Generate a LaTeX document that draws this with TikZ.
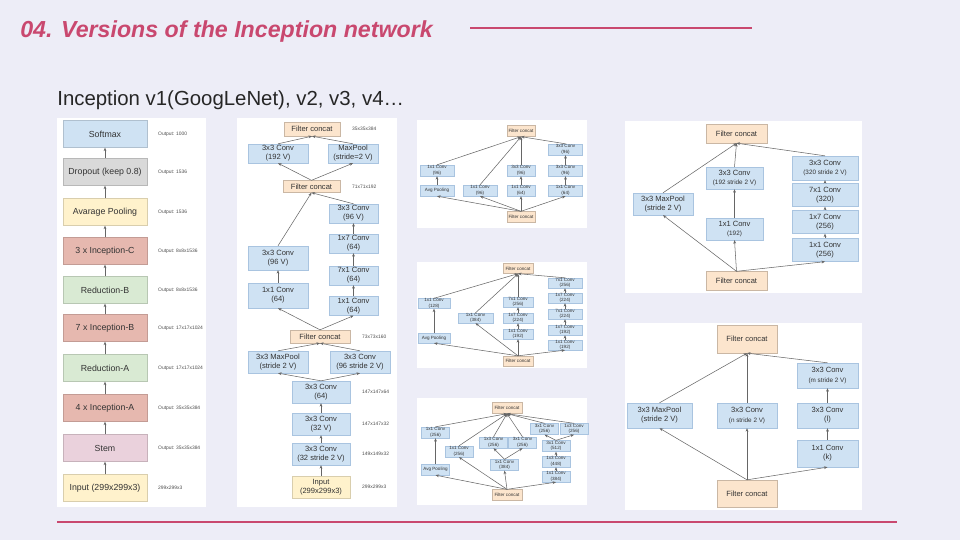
\documentclass[tikz,border=0pt]{standalone}
\usepackage{fontspec}
\setmainfont{Liberation Sans}
\usetikzlibrary{arrows.meta, positioning}
\definecolor{slide}{HTML}{EDEDF7}
\definecolor{titlered}{HTML}{C9486F}
\definecolor{convblue}{HTML}{CFE2F3}
\definecolor{convline}{HTML}{A9C4E0}
\definecolor{concat}{HTML}{FCE5CD}
\definecolor{inyellow}{HTML}{FFF2CC}
\definecolor{softblue}{HTML}{CFE2F3}
\definecolor{dropgray}{HTML}{D9D9D9}
\definecolor{incred}{HTML}{E6B8AF}
\definecolor{redgreen}{HTML}{D9EAD3}
\definecolor{stempurple}{HTML}{EAD1DC}
\newcommand{\fsz}[1]{\fontsize{#1pt}{\dimexpr #1pt*6/5\relax}\selectfont}
\tikzset{
  panel/.style={fill=white, draw=none},
  box/.style={draw=convline, line width=0.2pt, fill=convblue, inner sep=0pt, align=center, text=black!80},
  fc/.style={box, fill=concat, draw=concat!80!black},
  link/.style={draw=black!60, line width=0.3pt, -{Stealth[length=2pt, width=1.6pt]}},
  tiny/.style={font=\fsz{2.6}},
  small/.style={font=\fsz{4.3}},
  side/.style={anchor=west, font=\fsz{2.8}, text=black!70},
}
\begin{document}
\begin{tikzpicture}[x=0.02cm, y=-0.02cm]
\useasboundingbox (0,0) rectangle (960,540);
\fill[slide] (0,0) rectangle (960,540);

% title and rules
\node[anchor=base west, text=titlered, font=\bfseries\itshape\fsz{13.2}, inner sep=0] (T) at (20,38) {04. Versions of the Inception network};
\draw[titlered, line width=0.6pt] (470,28) -- (752,28);
\node[anchor=base west, font=\fsz{11.6}, text=black!85, inner sep=0] (S) at (57,106) {Inception v1(GoogLeNet), v2, v3, v4\dots};
\draw[titlered, line width=0.6pt] (57,522) -- (897,522);

% panels
\fill[panel] (57,118) rectangle (206,507);
\fill[panel] (237,118) rectangle (397,507);
\fill[panel] (417,120) rectangle (587,228);
\fill[panel] (417,262) rectangle (587,368);
\fill[panel] (417,398) rectangle (587,505);
\fill[panel] (625,121) rectangle (862,293);
\fill[panel] (625,323) rectangle (862,510);

% overall network
\foreach \n/\y/\c/\t/\o in {
  N0/134/softblue/Softmax/Output: 1000,
  N1/172/dropgray/Dropout (keep 0.8)/Output: 1536,
  N2/212/inyellow/Avarage Pooling/Output: 1536,
  N3/251/incred/3 x Inception-C/Output: 8x8x1536,
  N4/290/redgreen/Reduction-B/Output: 8x8x1536,
  N5/328/incred/7 x Inception-B/Output: 17x17x1024,
  N6/368/redgreen/Reduction-A/Output: 17x17x1024,
  N7/408/incred/4 x Inception-A/Output: 35x35x384,
  N8/448/stempurple/Stem/Output: 35x35x384,
  N9/488/inyellow/Input (299x299x3)/299x299x3}{
  \node[box, fill=\c, draw=\c!85!black, minimum width=84*0.02cm, minimum height=27*0.02cm, font=\fsz{5}] (\n) at (105,\y) {\t};
  \node[side] at (152,\y) {\o};
}
\foreach \a/\b in {N9/N8, N8/N7, N7/N6, N6/N5, N5/N4, N4/N3, N3/N2, N2/N1, N1/N0}
  \draw[link] (\a) -- (\b);

% stem
\begin{scope}[every node/.append style={small}]
\node[fc, minimum width=56*0.02cm, minimum height=14*0.02cm] (F1) at (312,129) {Filter concat};
\node[box, minimum width=60*0.02cm, minimum height=19*0.02cm] (C192) at (278,153.5) {3x3 Conv\\(192 V)};
\node[box, minimum width=50*0.02cm, minimum height=19*0.02cm] (MP2) at (353,153.5) {MaxPool\\(stride=2 V)};
\node[fc, minimum width=57*0.02cm, minimum height=12*0.02cm] (F2) at (311.5,186.5) {Filter concat};
\node[box, minimum width=49*0.02cm, minimum height=19*0.02cm] (R1) at (353.5,213.5) {3x3 Conv\\(96 V)};
\node[box, minimum width=49*0.02cm, minimum height=19*0.02cm] (R2) at (353.5,243.5) {1x7 Conv\\(64)};
\node[box, minimum width=49*0.02cm, minimum height=19*0.02cm] (R3) at (353.5,275.5) {7x1 Conv\\(64)};
\node[box, minimum width=49*0.02cm, minimum height=19*0.02cm] (R4) at (353.5,306) {1x1 Conv\\(64)};
\node[box, minimum width=60*0.02cm, minimum height=24*0.02cm] (L1) at (278,258) {3x3 Conv\\(96 V)};
\node[box, minimum width=60*0.02cm, minimum height=25*0.02cm] (L2) at (278,295.5) {1x1 Conv\\(64)};
\node[fc, minimum width=60*0.02cm, minimum height=13*0.02cm] (F3) at (320,336.5) {Filter concat};
\node[box, minimum width=60*0.02cm, minimum height=22*0.02cm] (MP3) at (278,362) {3x3 MaxPool\\(stride 2 V)};
\node[box, minimum width=60*0.02cm, minimum height=22*0.02cm] (C96) at (360,362) {3x3 Conv\\(96 stride 2 V)};
\node[box, minimum width=58*0.02cm, minimum height=22*0.02cm] (S3) at (321,392) {3x3 Conv\\(64)};
\node[box, minimum width=58*0.02cm, minimum height=22*0.02cm] (S2) at (321,424) {3x3 Conv\\(32 V)};
\node[box, minimum width=58*0.02cm, minimum height=22*0.02cm] (S1) at (321,454) {3x3 Conv\\(32 stride 2 V)};
\node[box, fill=inyellow, draw=inyellow!85!black, minimum width=58*0.02cm, minimum height=22*0.02cm] (IN) at (321,487) {Input\\(299x299x3)};
\end{scope}
\node[side] at (346,129) {35x35x384};
\node[side] at (346,186.5) {71x71x192};
\node[side] at (356,336.5) {73x73x160};
\node[side] at (356,392) {147x147x64};
\node[side] at (356,424) {147x147x32};
\node[side] at (356,454) {149x149x32};
\node[side] at (356,487) {299x299x3};
\draw[link] (IN) -- (S1);
\draw[link] (S1) -- (S2);
\draw[link] (S2) -- (S3);
\draw[link] (S3.north) -- (MP3.south);
\draw[link] (S3.north) -- (C96.south);
\draw[link] (MP3.north) -- (F3.south);
\draw[link] (C96.north) -- (F3.south);
\draw[link] (F3.north) -- (L2.south);
\draw[link] (F3.north) -- (R4.south);
\draw[link] (L2) -- (L1);
\draw[link] (R4) -- (R3);
\draw[link] (R3) -- (R2);
\draw[link] (R2) -- (R1);
\draw[link] (L1.north) -- (F2.south);
\draw[link] (R1.north) -- (F2.south);
\draw[link] (F2.north) -- (C192.south);
\draw[link] (F2.north) -- (MP2.south);
\draw[link] (C192.north) -- (F1.south);
\draw[link] (MP2.north) -- (F1.south);

% inception-A
\begin{scope}[every node/.append style={tiny, minimum width=34*0.02cm, minimum height=11*0.02cm}]
\node[fc, minimum width=28*0.02cm] (AT) at (521,131) {Filter concat};
\node[fc, minimum width=28*0.02cm] (AB) at (521,217) {Filter concat};
\node[box] (AA1) at (437,170.5) {1x1 Conv\\(96)};
\node[box] (AAP) at (437,190.5) {Avg Pooling};
\node[box] (AB1) at (480,190.5) {1x1 Conv\\(96)};
\node[box, minimum width=28*0.02cm] (AC2) at (521,170.5) {3x3 Conv\\(96)};
\node[box, minimum width=28*0.02cm] (AC1) at (521,190.5) {1x1 Conv\\(64)};
\node[box] (AD3) at (565.5,149.5) {3x3 Conv\\(96)};
\node[box] (AD2) at (565.5,170.5) {3x3 Conv\\(96)};
\node[box] (AD1) at (565.5,190.5) {1x1 Conv\\(64)};
\end{scope}
\foreach \a in {AAP, AB1, AC1, AD1} \draw[link] (AB.north) -- (\a.south);
\draw[link] (AAP) -- (AA1);
\draw[link] (AC1) -- (AC2);
\draw[link] (AD1) -- (AD2);
\draw[link] (AD2) -- (AD3);
\foreach \a in {AA1, AB1, AC2, AD3} \draw[link] (\a.north) -- (AT.south);

% inception-B
\begin{scope}[every node/.append style={tiny, minimum width=32*0.02cm, minimum height=10*0.02cm}]
\node[fc, minimum width=30*0.02cm] (BT) at (518,268.5) {Filter concat};
\node[fc, minimum width=30*0.02cm] (BB) at (518,361) {Filter concat};
\node[box] (BA1) at (434,303.5) {1x1 Conv\\(128)};
\node[box] (BAP) at (434,338) {Avg Pooling};
\node[box, minimum width=35*0.02cm] (BB1) at (475.5,318) {1x1 Conv\\(384)};
\node[box, minimum width=30*0.02cm] (BC3) at (518,302) {7x1 Conv\\(256)};
\node[box, minimum width=30*0.02cm] (BC2) at (518,318) {1x7 Conv\\(224)};
\node[box, minimum width=30*0.02cm] (BC1) at (518,334) {1x1 Conv\\(192)};
\node[box, minimum width=34*0.02cm] (BD5) at (565,283) {7x1 Conv\\(256)};
\node[box, minimum width=34*0.02cm] (BD4) at (565,298) {1x7 Conv\\(224)};
\node[box, minimum width=34*0.02cm] (BD3) at (565,314) {7x1 Conv\\(224)};
\node[box, minimum width=34*0.02cm] (BD2) at (565,330) {1x7 Conv\\(192)};
\node[box, minimum width=34*0.02cm] (BD1) at (565,345) {1x1 Conv\\(192)};
\end{scope}
\foreach \a in {BAP, BB1, BC1, BD1} \draw[link] (BB.north) -- (\a.south);
\draw[link] (BAP) -- (BA1);
\draw[link] (BC1) -- (BC2);
\draw[link] (BC2) -- (BC3);
\draw[link] (BD1) -- (BD2);
\draw[link] (BD2) -- (BD3);
\draw[link] (BD3) -- (BD4);
\draw[link] (BD4) -- (BD5);
\foreach \a in {BA1, BB1, BC3, BD5} \draw[link] (\a.north) -- (BT.south);

% inception-C
\begin{scope}[every node/.append style={tiny, minimum width=28*0.02cm, minimum height=11*0.02cm}]
\node[fc, minimum width=30*0.02cm] (CT) at (507,408) {Filter concat};
\node[fc, minimum width=30*0.02cm] (CB) at (507,495) {Filter concat};
\node[box] (CA1) at (435.5,432.5) {1x1 Conv\\(256)};
\node[box] (CAP) at (435.5,469.5) {Avg Pooling};
\node[box] (CB1) at (459,451.5) {1x1 Conv\\(256)};
\node[box] (CC1) at (504.5,465) {1x1 Conv\\(384)};
\node[box] (CC2) at (493.5,442.5) {1x3 Conv\\(256)};
\node[box] (CC3) at (522.5,442.5) {3x1 Conv\\(256)};
\node[box] (CD1) at (556,476.5) {1x1 Conv\\(384)};
\node[box] (CD2) at (556,461.5) {1x3 Conv\\(448)};
\node[box] (CD3) at (556,446) {3x1 Conv\\(512)};
\node[box] (CD4) at (544.5,429) {3x1 Conv\\(256)};
\node[box] (CD5) at (574,429) {1x3 Conv\\(256)};
\end{scope}
\foreach \a in {CAP, CB1, CC1, CD1} \draw[link] (CB.north) -- (\a.south);
\draw[link] (CAP) -- (CA1);
\draw[link] (CC1.north) -- (CC2.south);
\draw[link] (CC1.north) -- (CC3.south);
\draw[link] (CD1) -- (CD2);
\draw[link] (CD2) -- (CD3);
\draw[link] (CD3.north) -- (CD4.south);
\draw[link] (CD3.north) -- (CD5.south);
\foreach \a in {CA1, CB1, CC2, CC3, CD4, CD5} \draw[link] (\a.north) -- (CT.south);

% reduction-B
\begin{scope}[every node/.append style={small}]
\node[fc, minimum width=61*0.02cm, minimum height=19*0.02cm] (RT) at (736.5,133.5) {Filter concat};
\node[fc, minimum width=61*0.02cm, minimum height=19*0.02cm] (RB) at (736.5,281) {Filter concat};
\node[box, minimum width=60*0.02cm, minimum height=22*0.02cm] (RMP) at (663,204) {3x3 MaxPool\\(stride 2 V)};
\node[box, minimum width=57*0.02cm, minimum height=22*0.02cm] (RM2) at (734.5,178) {3x3 Conv\\{\fsz{3.6}(192 stride 2 V)}};
\node[box, minimum width=57*0.02cm, minimum height=22*0.02cm] (RM1) at (734.5,229) {1x1 Conv\\{\fsz{3.6}(192)}};
\node[box, minimum width=66*0.02cm, minimum height=24*0.02cm] (RR4) at (825,168) {3x3 Conv\\{\fsz{3.6}(320 stride 2 V)}};
\node[box, minimum width=66*0.02cm, minimum height=23*0.02cm] (RR3) at (825,195) {7x1 Conv\\(320)};
\node[box, minimum width=66*0.02cm, minimum height=23*0.02cm] (RR2) at (825,222) {1x7 Conv\\(256)};
\node[box, minimum width=66*0.02cm, minimum height=23*0.02cm] (RR1) at (825,250) {1x1 Conv\\(256)};
\end{scope}
\draw[link] (RB.north) -- (RMP.south);
\draw[link] (RB.north) -- (RM1.south);
\draw[link] (RB.north) -- (RR1.south);
\draw[link] (RM1) -- (RM2);
\draw[link] (RR1) -- (RR2);
\draw[link] (RR2) -- (RR3);
\draw[link] (RR3) -- (RR4);
\draw[link] (RMP.north) -- (RT.south);
\draw[link] (RM2.north) -- (RT.south);
\draw[link] (RR4.north) -- (RT.south);

% reduction-A
\begin{scope}[every node/.append style={small}]
\node[fc, minimum width=60*0.02cm, minimum height=28*0.02cm] (QT) at (747,339) {Filter concat};
\node[fc, minimum width=60*0.02cm, minimum height=27*0.02cm] (QB) at (747,493.5) {Filter concat};
\node[box, minimum width=65*0.02cm, minimum height=25*0.02cm] (QMP) at (659.5,415.5) {3x3 MaxPool\\(stride 2 V)};
\node[box, minimum width=60*0.02cm, minimum height=25*0.02cm] (QN) at (747,415.5) {3x3 Conv\\{\fsz{3.6}(n stride 2 V)}};
\node[box, minimum width=61*0.02cm, minimum height=25*0.02cm] (QR3) at (827.5,375.5) {3x3 Conv\\{\fsz{3.6}(m stride 2 V)}};
\node[box, minimum width=61*0.02cm, minimum height=25*0.02cm] (QR2) at (827.5,415.5) {3x3 Conv\\(l)};
\node[box, minimum width=61*0.02cm, minimum height=27*0.02cm] (QR1) at (827.5,453.5) {1x1 Conv\\(k)};
\end{scope}
\draw[link] (QB.north) -- (QMP.south);
\draw[link] (QB.north) -- (QN.south);
\draw[link] (QB.north) -- (QR1.south);
\draw[link] (QR1) -- (QR2);
\draw[link] (QR2) -- (QR3);
\draw[link] (QMP.north) -- (QT.south);
\draw[link] (QN.north) -- (QT.south);
\draw[link] (QR3.north) -- (QT.south);
\end{tikzpicture}
\end{document}
